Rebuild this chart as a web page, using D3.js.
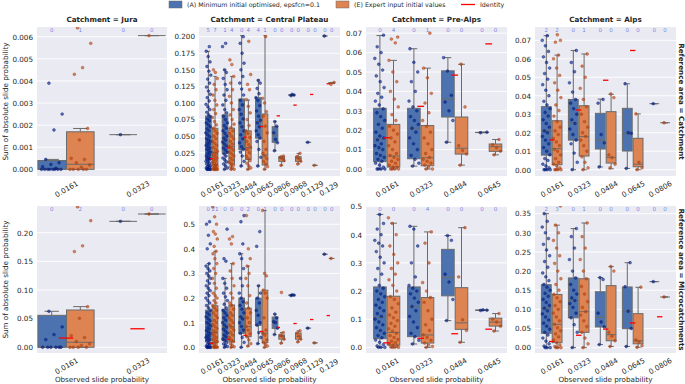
<!DOCTYPE html>
<html>
<head>
<meta charset="utf-8">
<script src="https://cdn.jsdelivr.net/npm/d3@7"></script>
<style>
  body { margin: 0; background: #fff; }
  svg { display: block; font-family: "DejaVu Sans", sans-serif; }
</style>
</head>
<body>
<svg id="chart" width="685" height="384"></svg>
<script>
// ---- data --------------------------------------------------------------
const catsJura = ["0.0161", "0.0323"];
const catsPlateau = ["0.0161", "0.0323", "0.0484", "0.0645", "0.0806", "0.0968", "0.1129", "0.129"];
const catsPreAlps = ["0.0161", "0.0323", "0.0484", "0.0645"];
const catsAlps = ["0.0161", "0.0323", "0.0484", "0.0645", "0.0806"];

const seriesNames = ["(A) Minimum initial optimised, epsfcn=0.1", "(E) Expert input initial values"];

// y tick values per panel
const ticksJuraCatch = [0, 0.001, 0.002, 0.003, 0.004, 0.005, 0.006];
const ticksPlateauCatch = [0, 0.025, 0.05, 0.075, 0.1, 0.125, 0.15, 0.175, 0.2];
const ticksPreAlpsCatch = [0, 0.01, 0.02, 0.03, 0.04, 0.05, 0.06, 0.07];
const ticksAlpsCatch = [0, 0.01, 0.02, 0.03, 0.04, 0.05, 0.06, 0.07];
const ticksJuraMicro = [0, 0.05, 0.1, 0.15, 0.2];
const ticksPlateauMicro = [0, 0.1, 0.2, 0.3, 0.4, 0.5];
const ticksPreAlpsMicro = [0, 0.1, 0.2, 0.3, 0.4, 0.5];
const ticksAlpsMicro = [0, 0.05, 0.1, 0.15, 0.2, 0.25, 0.3, 0.35];

// box stats per category: [whisker low, q1, median, q3, whisker high]
const boxJuraCatchA = [[0, 0, 0.00002, 0.0004, 0.00045], [0.00157, 0.00157, 0.00157, 0.00157, 0.00157]];
const boxJuraCatchE = [[0, 0, 0.00023, 0.0017, 0.00185], [0.00605, 0.00605, 0.00605, 0.00605, 0.00605]];
const ptsJuraCatchA = [[0.0039, 0.0025, 0.00178, 0.00045, 0.0003, 0.00022, 0.00012, 0.00005, 0, 0, 0, 0, 0, 0, 0, 0], [0.00157]];
const ptsJuraCatchE = [[0.0064, 0.0057, 0.0046, 0.0043, 0.00185, 0.00133, 0.0005, 0.00045, 0.0003, 0.0002, 0.0001, 0, 0, 0, 0, 0], [0.00605]];
const countsJuraCatch = [["0", "1"], ["0", "0"]];

const boxPlateauCatchA = [[0, 0.0151, 0.0417, 0.0804, 0.178], [0, 0.024, 0.045, 0.082, 0.15], [0.005, 0.03, 0.064, 0.106, 0.2015], [0.005, 0.047, 0.072, 0.108, 0.1347], [0.028, 0.0407, 0.052, 0.0643, 0.0724], [0.111, 0.1115, 0.112, 0.1125, 0.113], [0.0407, 0.0407, 0.0407, 0.0407, 0.0407], [0.201, 0.201, 0.201, 0.201, 0.201]];
const boxPlateauCatchE = [[0, 0.0065, 0.0251, 0.0618, 0.14], [0, 0.008, 0.034, 0.062, 0.14], [0, 0.015, 0.033, 0.058, 0.1045], [0, 0.0065, 0.0216, 0.0834, 0.2015], [0.006, 0.012, 0.0166, 0.019, 0.02], [0.008, 0.012, 0.016, 0.019, 0.024], [0.006, 0.006, 0.006, 0.006, 0.006], [0.1295, 0.1298, 0.13, 0.1307, 0.131]];
const ptsPlateauCatchA = [
  [0, 0, 0, 0, 0, 0.001, 0.002, 0.003, 0.004, 0.005, 0.006, 0.008, 0.009, 0.011, 0.012, 0.014, 0.015, 0.016, 0.018, 0.02, 0.022, 0.024, 0.026, 0.028, 0.03, 0.032, 0.034, 0.036, 0.038, 0.04, 0.042, 0.044, 0.046, 0.049, 0.052, 0.055, 0.058, 0.061, 0.064, 0.067, 0.07, 0.073, 0.076, 0.079, 0.082, 0.086, 0.09, 0.094, 0.098, 0.103, 0.108, 0.113, 0.118, 0.124, 0.13, 0.136, 0.142, 0.148, 0.155, 0.162, 0.17, 0.178, 0.185],
  [0, 0.002, 0.005, 0.008, 0.011, 0.014, 0.017, 0.02, 0.023, 0.026, 0.029, 0.032, 0.035, 0.038, 0.041, 0.044, 0.047, 0.05, 0.054, 0.058, 0.062, 0.066, 0.07, 0.075, 0.08, 0.085, 0.09, 0.097, 0.104, 0.112, 0.12, 0.128, 0.137, 0.146, 0.15, 0.185, 0.19],
  [0.005, 0.012, 0.02, 0.026, 0.03, 0.034, 0.04, 0.046, 0.052, 0.058, 0.064, 0.07, 0.076, 0.083, 0.09, 0.097, 0.104, 0.112, 0.121, 0.13, 0.14, 0.15, 0.16, 0.175, 0.19, 0.2],
  [0.005, 0.018, 0.03, 0.042, 0.047, 0.052, 0.058, 0.064, 0.07, 0.074, 0.08, 0.088, 0.096, 0.104, 0.108, 0.114, 0.122, 0.13, 0.134],
  [0.028, 0.04, 0.045, 0.055, 0.065, 0.072],
  [0.111, 0.112, 0.113],
  [0.0407],
  [0.201]
];
const ptsPlateauCatchE = [
  [0, 0, 0, 0, 0, 0, 0.001, 0.002, 0.003, 0.004, 0.005, 0.006, 0.007, 0.009, 0.011, 0.013, 0.015, 0.017, 0.019, 0.021, 0.023, 0.025, 0.027, 0.03, 0.033, 0.036, 0.039, 0.042, 0.046, 0.05, 0.054, 0.058, 0.062, 0.067, 0.072, 0.078, 0.084, 0.09, 0.097, 0.104, 0.112, 0.12, 0.128, 0.137, 0.146, 0.15],
  [0, 0, 0.002, 0.004, 0.006, 0.008, 0.011, 0.014, 0.017, 0.02, 0.023, 0.026, 0.029, 0.032, 0.035, 0.038, 0.042, 0.046, 0.05, 0.054, 0.058, 0.063, 0.068, 0.075, 0.082, 0.09, 0.1, 0.11, 0.12, 0.13, 0.14, 0.158, 0.165],
  [0, 0.002, 0.005, 0.009, 0.013, 0.016, 0.02, 0.025, 0.03, 0.033, 0.037, 0.042, 0.048, 0.054, 0.058, 0.066, 0.075, 0.085, 0.095, 0.105, 0.12, 0.128, 0.143, 0.193],
  [0, 0.004, 0.008, 0.012, 0.016, 0.02, 0.024, 0.03, 0.042, 0.055, 0.065, 0.08, 0.087, 0.1, 0.107, 0.2],
  [0.006, 0.013, 0.016, 0.018, 0.02],
  [0.008, 0.012, 0.016, 0.019, 0.024],
  [0.006],
  [0.128, 0.131]
];
const countsPlateauCatch = [["5", "7"], ["1", "4"], ["0", "4"], ["4", "1"], ["0", "0"], ["0", "0"], ["0", "0"], ["0", "0"]];

const boxPreAlpsCatchA = [[0, 0.0038, 0.0155, 0.0313, 0.0688], [0.0015, 0.0053, 0.021, 0.0313, 0.062], [0.0138, 0.0268, 0.036, 0.0506, 0.0574], [0.0187, 0.0188, 0.0188, 0.0189, 0.019]];
const boxPreAlpsCatchE = [[0, 0.001, 0.0067, 0.023, 0.056], [0, 0.0017, 0.0058, 0.0224, 0.052], [0.002, 0.0077, 0.0107, 0.0268, 0.054], [0.0073, 0.0091, 0.0115, 0.0129, 0.0152]];
const ptsPreAlpsCatchA = [
  [0, 0, 0, 0, 0.001, 0.002, 0.003, 0.004, 0.005, 0.006, 0.007, 0.008, 0.01, 0.011, 0.012, 0.013, 0.015, 0.016, 0.017, 0.019, 0.021, 0.023, 0.025, 0.027, 0.029, 0.031, 0.033, 0.035, 0.037, 0.039, 0.042, 0.045, 0.048, 0.051, 0.054, 0.057, 0.06, 0.063, 0.069],
  [0.0015, 0.003, 0.005, 0.007, 0.01, 0.013, 0.016, 0.019, 0.021, 0.023, 0.025, 0.027, 0.03, 0.032, 0.035, 0.04, 0.045, 0.05, 0.055, 0.062],
  [0.0138, 0.025, 0.03, 0.0345, 0.038, 0.0505, 0.0574],
  [0.0187, 0.019]
];
const ptsPreAlpsCatchE = [
  [0, 0, 0, 0, 0.001, 0.001, 0.002, 0.003, 0.004, 0.005, 0.006, 0.007, 0.008, 0.01, 0.012, 0.014, 0.016, 0.018, 0.02, 0.022, 0.025, 0.028, 0.032, 0.036, 0.04, 0.045, 0.05, 0.056, 0.065, 0.067, 0.068],
  [0, 0, 0.001, 0.002, 0.003, 0.004, 0.005, 0.006, 0.008, 0.01, 0.013, 0.016, 0.019, 0.022, 0.025, 0.029, 0.034, 0.039, 0.047, 0.052, 0.07],
  [0.002, 0.0077, 0.0095, 0.012, 0.032, 0.054],
  [0.0073, 0.0092, 0.011, 0.0125, 0.0152]
];
const countsPreAlpsCatch = [["0", "4"], ["0", "1"], ["0", "0"], ["0", "0"]];

const boxAlpsCatchA = [[0, 0.0079, 0.0211, 0.0341, 0.0725], [0, 0.016, 0.0254, 0.038, 0.0645], [0.0015, 0.0112, 0.016, 0.0305, 0.0382], [0.0007, 0.0101, 0.0197, 0.0332, 0.0465], [0.0357, 0.0357, 0.0357, 0.0357, 0.0357]];
const boxAlpsCatchE = [[0, 0.0027, 0.0114, 0.0265, 0.062], [0, 0.0074, 0.0179, 0.0346, 0.0626], [0.0005, 0.0036, 0.0067, 0.0314, 0.0408], [0, 0.0016, 0.003, 0.017, 0.0302], [0.0254, 0.0254, 0.0254, 0.0254, 0.0254]];
const ptsAlpsCatchA = [
  [0, 0, 0, 0, 0.001, 0.002, 0.003, 0.005, 0.006, 0.008, 0.01, 0.012, 0.014, 0.016, 0.018, 0.02, 0.021, 0.023, 0.025, 0.027, 0.029, 0.031, 0.033, 0.035, 0.037, 0.04, 0.043, 0.046, 0.049, 0.052, 0.055, 0.058, 0.061, 0.064, 0.067, 0.07, 0.0725],
  [0, 0.004, 0.009, 0.014, 0.016, 0.019, 0.022, 0.025, 0.027, 0.03, 0.033, 0.036, 0.038, 0.042, 0.047, 0.053, 0.058, 0.0645],
  [0.0015, 0.0145, 0.019, 0.036, 0.038],
  [0.0007, 0.0197, 0.02, 0.0465],
  [0.0357]
];
const ptsAlpsCatchE = [
  [0, 0, 0, 0, 0.001, 0.002, 0.003, 0.004, 0.006, 0.008, 0.01, 0.011, 0.013, 0.015, 0.017, 0.019, 0.021, 0.023, 0.026, 0.029, 0.032, 0.035, 0.039, 0.043, 0.047, 0.051, 0.055, 0.06, 0.062, 0.069, 0.07, 0.073],
  [0, 0.001, 0.004, 0.007, 0.01, 0.013, 0.016, 0.018, 0.02, 0.023, 0.026, 0.03, 0.034, 0.038, 0.044, 0.05, 0.056, 0.0626],
  [0.001, 0.003, 0.0065, 0.008, 0.039, 0.041],
  [0, 0.001, 0.004, 0.0302],
  [0.0254]
];
const countsAlpsCatch = [["2", "2"], ["0", "1"], ["0", "0"], ["0", "0"], ["0", "0"]];

const boxJuraMicroA = [[0, 0, 0, 0.0558, 0.0628], [0.2198, 0.2198, 0.2198, 0.2198, 0.2198]];
const boxJuraMicroE = [[0, 0, 0.0087, 0.0651, 0.0709], [0.2326, 0.2326, 0.2326, 0.2326, 0.2326]];
const ptsJuraMicroA = [[0.0628, 0.0355, 0.0221, 0.0134, 0, 0, 0, 0, 0, 0], [0.2198]];
const ptsJuraMicroE = [[0.245, 0.221, 0.177, 0.167, 0.0709, 0.0506, 0.0203, 0.017, 0.01, 0.006, 0.003, 0, 0, 0, 0], [0.2326]];
const countsJuraMicro = [["0", "2"], ["0", "0"]];

const boxPlateauMicroA = [[0, 0.027, 0.07, 0.151, 0.34], [0, 0.027, 0.081, 0.154, 0.28], [0, 0.057, 0.124, 0.2, 0.38], [0.015, 0.089, 0.158, 0.2, 0.25], [0.052, 0.077, 0.104, 0.123, 0.135], [0.21, 0.211, 0.212, 0.2125, 0.213], [0.078, 0.078, 0.078, 0.078, 0.078], [0.378, 0.378, 0.378, 0.378, 0.378]];
const boxPlateauMicroE = [[0, 0.019, 0.06, 0.169, 0.39], [0, 0.023, 0.084, 0.172, 0.34], [0.005, 0.043, 0.084, 0.159, 0.33], [0, 0.019, 0.057, 0.232, 0.556], [0.017, 0.033, 0.045, 0.05, 0.06], [0.022, 0.033, 0.045, 0.058, 0.067], [0.018, 0.018, 0.018, 0.018, 0.018], [0.361, 0.361, 0.361, 0.361, 0.361]];
const ptsPlateauMicroA = [
  [0, 0, 0, 0, 0, 0.002, 0.005, 0.008, 0.012, 0.016, 0.02, 0.025, 0.03, 0.035, 0.04, 0.045, 0.05, 0.056, 0.062, 0.068, 0.074, 0.08, 0.087, 0.094, 0.101, 0.108, 0.116, 0.124, 0.132, 0.14, 0.15, 0.16, 0.17, 0.18, 0.19, 0.2, 0.21, 0.22, 0.23, 0.24, 0.25, 0.26, 0.27, 0.28, 0.29, 0.3, 0.31, 0.32, 0.33, 0.34, 0.4, 0.42, 0.455, 0.5, 0.51],
  [0, 0.003, 0.008, 0.014, 0.02, 0.027, 0.034, 0.042, 0.05, 0.058, 0.066, 0.074, 0.082, 0.09, 0.1, 0.11, 0.12, 0.13, 0.14, 0.15, 0.16, 0.175, 0.19, 0.205, 0.22, 0.24, 0.26, 0.28, 0.35, 0.36, 0.48],
  [0, 0.02, 0.04, 0.057, 0.07, 0.085, 0.1, 0.115, 0.124, 0.14, 0.155, 0.17, 0.185, 0.2, 0.22, 0.25, 0.28, 0.32, 0.36, 0.38, 0.42, 0.51, 0.535],
  [0.015, 0.04, 0.06, 0.09, 0.1, 0.13, 0.15, 0.18, 0.2, 0.22, 0.25, 0.41, 0.47],
  [0.052, 0.078, 0.1, 0.104, 0.12, 0.135],
  [0.21, 0.212, 0.213],
  [0.078],
  [0.378]
];
const ptsPlateauMicroE = [
  [0, 0, 0, 0, 0.002, 0.005, 0.009, 0.013, 0.018, 0.023, 0.028, 0.034, 0.04, 0.047, 0.054, 0.061, 0.068, 0.076, 0.084, 0.092, 0.1, 0.11, 0.12, 0.13, 0.14, 0.15, 0.16, 0.17, 0.18, 0.19, 0.2, 0.21, 0.22, 0.24, 0.26, 0.28, 0.3, 0.32, 0.34, 0.36, 0.38, 0.39, 0.41, 0.44, 0.46, 0.47, 0.5, 0.53, 0.57],
  [0, 0.002, 0.008, 0.015, 0.023, 0.03, 0.04, 0.05, 0.06, 0.07, 0.08, 0.09, 0.1, 0.11, 0.12, 0.13, 0.14, 0.155, 0.17, 0.18, 0.2, 0.22, 0.25, 0.28, 0.31, 0.34, 0.42, 0.44, 0.45],
  [0.005, 0.015, 0.03, 0.043, 0.055, 0.07, 0.084, 0.1, 0.12, 0.14, 0.159, 0.18, 0.21, 0.25, 0.28, 0.3, 0.33, 0.36, 0.4, 0.535],
  [0, 0.005, 0.012, 0.019, 0.03, 0.05, 0.057, 0.07, 0.12, 0.2, 0.22, 0.232, 0.29, 0.3, 0.556],
  [0.017, 0.033, 0.045, 0.05, 0.06, 0.223],
  [0.022, 0.033, 0.045, 0.058, 0.067],
  [0.018],
  [0.361]
];
const countsPlateauMicro = [["0", "21"], ["0", "0"], ["0", "2"], ["0", "1"], ["0", "0"], ["0", "0"], ["0", "0"], ["0", "0"]];

const boxPreAlpsMicroA = [[0, 0.031, 0.106, 0.2146, 0.472], [0.012, 0.038, 0.145, 0.2146, 0.43], [0.095, 0.183, 0.248, 0.348, 0.397], [0.131, 0.1315, 0.132, 0.1325, 0.133]];
const boxPreAlpsMicroE = [[0, 0.008, 0.053, 0.1816, 0.441], [0, 0.0153, 0.044, 0.177, 0.41], [0.018, 0.064, 0.087, 0.212, 0.425], [0.058, 0.0755, 0.0896, 0.1038, 0.12]];
const ptsPreAlpsMicroA = [
  [0, 0, 0, 0.005, 0.01, 0.018, 0.026, 0.034, 0.042, 0.05, 0.06, 0.07, 0.08, 0.09, 0.1, 0.11, 0.12, 0.13, 0.14, 0.15, 0.16, 0.17, 0.18, 0.19, 0.2, 0.21, 0.22, 0.24, 0.26, 0.28, 0.3, 0.32, 0.34, 0.36, 0.37, 0.38, 0.4, 0.42, 0.44, 0.472],
  [0.012, 0.025, 0.038, 0.05, 0.07, 0.09, 0.11, 0.13, 0.145, 0.16, 0.175, 0.19, 0.2, 0.21, 0.22, 0.25, 0.3, 0.36, 0.42, 0.43],
  [0.095, 0.17, 0.232, 0.26, 0.38, 0.397],
  [0.131, 0.132, 0.133]
];
const ptsPreAlpsMicroE = [
  [0, 0, 0, 0.002, 0.005, 0.008, 0.012, 0.017, 0.022, 0.028, 0.035, 0.042, 0.05, 0.058, 0.066, 0.075, 0.085, 0.095, 0.105, 0.115, 0.125, 0.14, 0.155, 0.17, 0.18, 0.2, 0.22, 0.24, 0.26, 0.28, 0.3, 0.33, 0.36, 0.4, 0.44, 0.46],
  [0, 0.003, 0.008, 0.015, 0.025, 0.035, 0.044, 0.06, 0.08, 0.1, 0.13, 0.16, 0.177, 0.2, 0.23, 0.3, 0.37, 0.41],
  [0.018, 0.06, 0.098, 0.25, 0.425],
  [0.058, 0.075, 0.09, 0.1, 0.12]
];
const countsPreAlpsMicro = [["0", "0"], ["0", "4"], ["0", "0"], ["0", "0"]];

const boxAlpsMicroA = [[0, 0.0374, 0.1027, 0.1645, 0.35], [0, 0.078, 0.123, 0.182, 0.311], [0.008, 0.054, 0.079, 0.146, 0.183], [0.003, 0.0496, 0.095, 0.1585, 0.222], [0.1724, 0.1724, 0.1724, 0.1724, 0.1724]];
const boxAlpsMicroE = [[0, 0.013, 0.061, 0.139, 0.32], [0, 0.04, 0.094, 0.18, 0.3256], [0.003, 0.018, 0.034, 0.162, 0.2116], [0.001, 0.01, 0.018, 0.0888, 0.1576], [0.1323, 0.1323, 0.1323, 0.1323, 0.1323]];
const ptsAlpsMicroA = [
  [0, 0, 0, 0.004, 0.01, 0.017, 0.025, 0.033, 0.04, 0.048, 0.056, 0.064, 0.072, 0.08, 0.088, 0.096, 0.103, 0.11, 0.118, 0.126, 0.134, 0.142, 0.15, 0.158, 0.165, 0.175, 0.185, 0.195, 0.21, 0.225, 0.24, 0.255, 0.27, 0.285, 0.3, 0.315, 0.33, 0.35],
  [0, 0.04, 0.06, 0.078, 0.09, 0.105, 0.115, 0.123, 0.13, 0.14, 0.15, 0.165, 0.182, 0.2, 0.23, 0.26, 0.29, 0.311],
  [0.008, 0.054, 0.067, 0.09, 0.178, 0.183],
  [0.003, 0.05, 0.095, 0.159, 0.222],
  [0.1724]
];
const ptsAlpsMicroE = [
  [0, 0, 0, 0.003, 0.007, 0.013, 0.02, 0.028, 0.036, 0.044, 0.052, 0.061, 0.07, 0.08, 0.09, 0.1, 0.11, 0.12, 0.13, 0.139, 0.15, 0.165, 0.18, 0.2, 0.22, 0.24, 0.26, 0.28, 0.3, 0.32, 0.37],
  [0, 0.01, 0.025, 0.04, 0.055, 0.07, 0.085, 0.094, 0.105, 0.12, 0.14, 0.16, 0.18, 0.2, 0.23, 0.26, 0.29, 0.3256],
  [0.003, 0.018, 0.03, 0.04, 0.2, 0.212],
  [0.001, 0.005, 0.015, 0.02, 0.158],
  [0.1323]
];
const countsAlpsMicro = [["2", "3"], ["0", "1"], ["0", "0"], ["0", "0"], ["0", "0"]];

// ---- layout ------------------------------------------------------------
const BOX_COLORS = ["#4C72B0", "#DD8452"];
const PT_COLORS = ["#001c7f", "#b1400d"];
const EDGE = "#6b6b6b";
const BG = "#EAEAF2";
const TEXT = "#262626";

const columns = [
  { name: "Jura", cats: catsJura, x0: 37, x1: 167, c0: 66, c1: 137.5 },
  { name: "Central Plateau", cats: catsPlateau, x0: 199, x1: 340, c0: 211.7, c1: 328.3 },
  { name: "Pre-Alps", cats: catsPreAlps, x0: 366, x1: 507, c0: 386.7, c1: 488.7 },
  { name: "Alps", cats: catsAlps, x0: 535, x1: 676, c0: 551.7, c1: 659.7 }
];
const rows = [
  { label: "Reference area = Catchment", y0: 27, y1: 176 },
  { label: "Reference area = Microcatchments", y0: 206, y1: 353 }
];

const panels = [
  { col: 0, row: 0, ydom: [-0.0003, 0.00644], ticks: ticksJuraCatch, fmt: ".3f", box: [boxJuraCatchA, boxJuraCatchE], pts: [ptsJuraCatchA, ptsJuraCatchE], counts: countsJuraCatch },
  { col: 1, row: 0, ydom: [-0.0101, 0.2146], ticks: ticksPlateauCatch, fmt: ".3f", box: [boxPlateauCatchA, boxPlateauCatchE], pts: [ptsPlateauCatchA, ptsPlateauCatchE], counts: countsPlateauCatch },
  { col: 2, row: 0, ydom: [-0.0036, 0.0732], ticks: ticksPreAlpsCatch, fmt: ".2f", box: [boxPreAlpsCatchA, boxPreAlpsCatchE], pts: [ptsPreAlpsCatchA, ptsPreAlpsCatchE], counts: countsPreAlpsCatch },
  { col: 3, row: 0, ydom: [-0.0034, 0.0772], ticks: ticksAlpsCatch, fmt: ".2f", box: [boxAlpsCatchA, boxAlpsCatchE], pts: [ptsAlpsCatchA, ptsAlpsCatchE], counts: countsAlpsCatch },
  { col: 0, row: 1, ydom: [-0.01, 0.2466], ticks: ticksJuraMicro, fmt: ".2f", box: [boxJuraMicroA, boxJuraMicroE], pts: [ptsJuraMicroA, ptsJuraMicroE], counts: countsJuraMicro },
  { col: 1, row: 1, ydom: [-0.023, 0.574], ticks: ticksPlateauMicro, fmt: ".1f", box: [boxPlateauMicroA, boxPlateauMicroE], pts: [ptsPlateauMicroA, ptsPlateauMicroE], counts: countsPlateauMicro },
  { col: 2, row: 1, ydom: [-0.02, 0.502], ticks: ticksPreAlpsMicro, fmt: ".1f", box: [boxPreAlpsMicroA, boxPreAlpsMicroE], pts: [ptsPreAlpsMicroA, ptsPreAlpsMicroE], counts: countsPreAlpsMicro },
  { col: 3, row: 1, ydom: [-0.014, 0.370], ticks: ticksAlpsMicro, fmt: ".2f", box: [boxAlpsMicroA, boxAlpsMicroE], pts: [ptsAlpsMicroA, ptsAlpsMicroE], counts: countsAlpsMicro }
];

const svg = d3.select("#chart");

// deterministic spread of strip points around the box centre
const jitter = i => ((i * 0.618034 + 0.37) % 1) - 0.5;

panels.forEach((p, pi) => {
  const col = columns[p.col];
  const row = rows[p.row];
  const g = svg.append("g");

  const x = d3.scalePoint().domain(col.cats).range([col.c0, col.c1]);
  const u = x.step();
  const y = d3.scaleLinear().domain(p.ydom).range([row.y1, row.y0]);

  // background
  g.append("rect")
    .attr("x", col.x0).attr("y", row.y0)
    .attr("width", col.x1 - col.x0).attr("height", row.y1 - row.y0)
    .attr("fill", BG);

  // grid
  g.selectAll(".grid")
    .data(p.ticks)
    .join("line")
    .attr("x1", col.x0).attr("x2", col.x1)
    .attr("y1", d => y(d)).attr("y2", d => y(d))
    .attr("stroke", "#fff").attr("stroke-width", 0.9);

  // y axis
  const yAxis = d3.axisLeft(y).tickValues(p.ticks).tickFormat(d3.format(p.fmt)).tickSize(0).tickPadding(4);
  const ya = g.append("g").attr("transform", `translate(${col.x0},0)`).call(yAxis);
  ya.select(".domain").remove();
  ya.selectAll("text").attr("fill", TEXT).attr("font-size", "7.2px").attr("font-family", "DejaVu Sans");

  // x axis, rotated labels
  const xAxis = d3.axisBottom(x).tickSize(0);
  const xa = g.append("g").attr("transform", `translate(0,${row.y1})`).call(xAxis);
  xa.select(".domain").remove();
  xa.selectAll("text")
    .attr("y", 0).attr("dy", "0.35em")
    .attr("text-anchor", "middle")
    .attr("transform", "translate(0,13) rotate(-30)")
    .attr("fill", TEXT).attr("font-size", "7.2px").attr("font-family", "DejaVu Sans");

  // clip area
  const clipId = "clip" + pi;
  svg.append("clipPath").attr("id", clipId)
    .append("rect")
    .attr("x", col.x0).attr("y", row.y0)
    .attr("width", col.x1 - col.x0).attr("height", row.y1 - row.y0);
  const plot = g.append("g").attr("clip-path", `url(#${clipId})`);

  const bw = 0.4 * u;
  // boxes
  [0, 1].forEach(h => {
    const off = (h === 0 ? -0.2 : 0.2) * u;
    const bg = plot.append("g");
    p.box[h].forEach((s, ci) => {
      if (!s) return;
      const cx = x(col.cats[ci]) + off;
      const [lo, q1, med, q3, hi] = s;
      bg.append("line").attr("x1", cx).attr("x2", cx).attr("y1", y(q3)).attr("y2", y(hi))
        .attr("stroke", EDGE).attr("stroke-width", 1);
      bg.append("line").attr("x1", cx).attr("x2", cx).attr("y1", y(q1)).attr("y2", y(lo))
        .attr("stroke", EDGE).attr("stroke-width", 1);
      bg.append("line").attr("x1", cx - bw / 4).attr("x2", cx + bw / 4).attr("y1", y(hi)).attr("y2", y(hi))
        .attr("stroke", EDGE).attr("stroke-width", 1);
      bg.append("line").attr("x1", cx - bw / 4).attr("x2", cx + bw / 4).attr("y1", y(lo)).attr("y2", y(lo))
        .attr("stroke", EDGE).attr("stroke-width", 1);
      bg.append("rect")
        .attr("x", cx - bw / 2 + 0.5).attr("width", bw - 1)
        .attr("y", y(q3)).attr("height", Math.max(0, y(q1) - y(q3)))
        .attr("fill", BOX_COLORS[h]).attr("stroke", EDGE).attr("stroke-width", 1);
      bg.append("line").attr("x1", cx - bw / 2 + 0.5).attr("x2", cx + bw / 2 - 0.5)
        .attr("y1", y(med)).attr("y2", y(med))
        .attr("stroke", EDGE).attr("stroke-width", 1);
    });
  });

  // strip points
  [0, 1].forEach(h => {
    const off = (h === 0 ? -0.2 : 0.2) * u;
    p.pts[h].forEach((vals, ci) => {
      const cx = x(col.cats[ci]) + off;
      plot.append("g").selectAll("circle")
        .data(vals)
        .join("circle")
        .attr("cx", (d, i) => cx + jitter(i) * 0.3 * u)
        .attr("cy", d => y(d))
        .attr("r", 1.4)
        .attr("fill", PT_COLORS[h]).attr("fill-opacity", 0.6)
        .attr("stroke", PT_COLORS[h]).attr("stroke-opacity", 0.85).attr("stroke-width", 0.5);
    });
  });

  // identity lines
  plot.append("g").selectAll("line")
    .data(col.cats)
    .join("line")
    .attr("x1", d => x(d) - 0.1 * u).attr("x2", d => x(d) + 0.1 * u)
    .attr("y1", d => y(+d)).attr("y2", d => y(+d))
    .attr("stroke", "red").attr("stroke-width", 1.3);

  // counts at the top
  [0, 1].forEach(h => {
    const off = (h === 0 ? -0.2 : 0.2) * u;
    g.append("g").selectAll("text")
      .data(p.counts)
      .join("text")
      .attr("x", (d, ci) => x(col.cats[ci]) + off)
      .attr("y", row.y0 + 3)
      .attr("dy", "0.35em")
      .attr("text-anchor", "middle")
      .attr("font-size", "5.5px")
      .attr("fill", "#3b4fe0").attr("fill-opacity", 0.7)
      .text(d => d[h]);
  });

  // column title (top row) and x label (bottom row)
  if (p.row === 0) {
    svg.append("text")
      .attr("x", (col.x0 + col.x1) / 2).attr("y", 22)
      .attr("text-anchor", "middle")
      .attr("font-size", "7.2px").attr("font-weight", "bold").attr("fill", TEXT)
      .text("Catchment = " + col.name);
  } else {
    svg.append("text")
      .attr("x", (col.x0 + col.x1) / 2).attr("y", 382)
      .attr("text-anchor", "middle")
      .attr("font-size", "7.2px").attr("fill", TEXT)
      .text("Observed slide probability");
  }
  if (p.col === 0) {
    const cy = (row.y0 + row.y1) / 2;
    svg.append("text")
      .attr("transform", `translate(8,${cy}) rotate(-90)`)
      .attr("text-anchor", "middle")
      .attr("font-size", "7.2px").attr("fill", TEXT)
      .text("Sum of absolute slide probability");
  }
  if (p.col === 3) {
    const cy = (row.y0 + row.y1) / 2;
    svg.append("text")
      .attr("transform", `translate(679,${cy}) rotate(90)`)
      .attr("text-anchor", "middle")
      .attr("font-size", "7.2px").attr("font-weight", "bold").attr("fill", TEXT)
      .text(row.label);
  }
});

// legend
const legend = svg.append("g").attr("font-size", "6.3px").attr("fill", TEXT);
[169, 336].forEach((lx, i) => {
  legend.append("rect").attr("x", lx).attr("y", 1).attr("width", 13).attr("height", 7)
    .attr("fill", BOX_COLORS[i]).attr("stroke", EDGE).attr("stroke-width", 0.5);
  legend.append("text").attr("x", lx + 18).attr("y", 7.2).text(seriesNames[i]);
});
legend.append("line").attr("x1", 461).attr("x2", 475).attr("y1", 4.5).attr("y2", 4.5)
  .attr("stroke", "red").attr("stroke-width", 1.3);
legend.append("text").attr("x", 480).attr("y", 7.2).text("Identity");
</script>
</body>
</html>
